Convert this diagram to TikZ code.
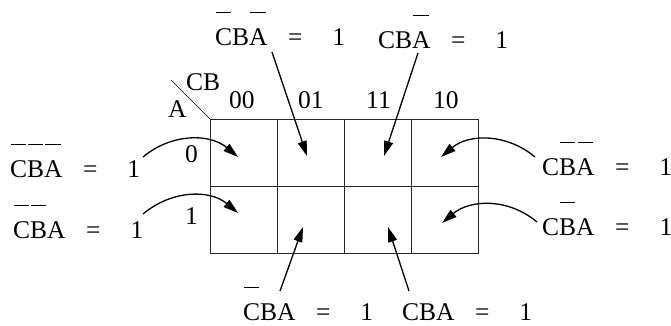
\documentclass[tikz,border=0pt]{standalone}
\usepackage{fontspec}
\setmainfont{Liberation Serif}
\usetikzlibrary{arrows.meta}
% bar over one letter, set high above it
\newcommand\nb[1]{\setbox0=\hbox{#1}\rlap{\hbox to\wd0{\hss\rule[1.25em]{\dimexpr\wd0-.1em\relax}{.8bp}\hss}}\box0}
\newcommand\isone{\hspace{.8em}=\hspace{1.18em}1}

\begin{document}
\begin{tikzpicture}[x=1bp,y=1bp,cell/.style={draw=black!85,line width=.8bp,minimum width=67bp,minimum height=67bp,inner sep=0,outer sep=0},txt/.style={anchor=base west,inner sep=0,font=\fontsize{25.5bp}{30bp}\selectfont},a/.style={-{Triangle[length=15bp,width=9bp]},line width=1.3bp}]
\useasboundingbox (0,0) rectangle (671,325);
% the map
\node[cell] (a0c00) at (243.5,172.5) {};
\node[cell] (a0c01) at (310.5,172.5) {};
\node[cell] (a0c11) at (377.5,172.5) {};
\node[cell] (a0c10) at (444.5,172.5) {};
\node[cell] (a1c00) at (243.5,105.5) {};
\node[cell] (a1c01) at (310.5,105.5) {};
\node[cell] (a1c11) at (377.5,105.5) {};
\node[cell] (a1c10) at (444.5,105.5) {};
\coordinate (corner) at (171,245);
\draw[line width=.7bp] (corner)--(a0c00.north west);
\node[txt] (cb) at (186,235) {CB};
\node[txt] (av) at (168,208) {A};
\node[txt] (h00) at (229,217) {00};
\node[txt] (h01) at (298,217) {01};
\node[txt] (h11) at (366,217) {11};
\node[txt] (h10) at (433,217) {10};
\node[txt] (r0) at (185,163) {0};
\node[txt] (r1) at (185,101) {1};
% minterm labels
\node[txt] (m2) at (215,280) {\nb{C}B\nb{A}\isone};
\node[txt] (m6) at (378,277) {CB\nb{A}\isone};
\node[txt] (m0) at (10,148) {\nb{C}\nb{B}\nb{A}\isone};
\node[txt] (m1) at (13,87) {\nb{C}\nb{B}A\isone};
\node[txt] (m4) at (542,150) {C\nb{B}\nb{A}\isone};
\node[txt] (m5) at (542,90) {C\nb{B}A\isone};
\node[txt] (m3) at (243,5) {\nb{C}BA\isone};
\node[txt] (m7) at (402,5) {CBA\isone};
\coordinate (s2) at (272,273); \coordinate (t2) at (307,169);
\coordinate (s6) at (418,272); \coordinate (t6) at (384,169);
\coordinate (s0) at (143,168); \coordinate (t0) at (238,168);
\coordinate (s1) at (143,111); \coordinate (t1) at (238,112);
\coordinate (s4) at (535,168); \coordinate (t4) at (441,168);
\coordinate (s5) at (537,103); \coordinate (t5) at (442,102);
\coordinate (s3) at (280,34); \coordinate (t3) at (303,98);
\coordinate (s7) at (409,34); \coordinate (t7) at (388,98);
\draw[a] (s2)--(t2); \draw[a] (s6)--(t6);
\draw[a] (s3)--(t3); \draw[a] (s7)--(t7);
\draw[a] (s0) to[out=40,in=140] (t0);
\draw[a] (s1) to[out=40,in=140] (t1);
\draw[a] (s4) to[out=140,in=40] (t4);
\draw[a] (s5) to[out=140,in=40] (t5);
\end{tikzpicture}
\end{document}
